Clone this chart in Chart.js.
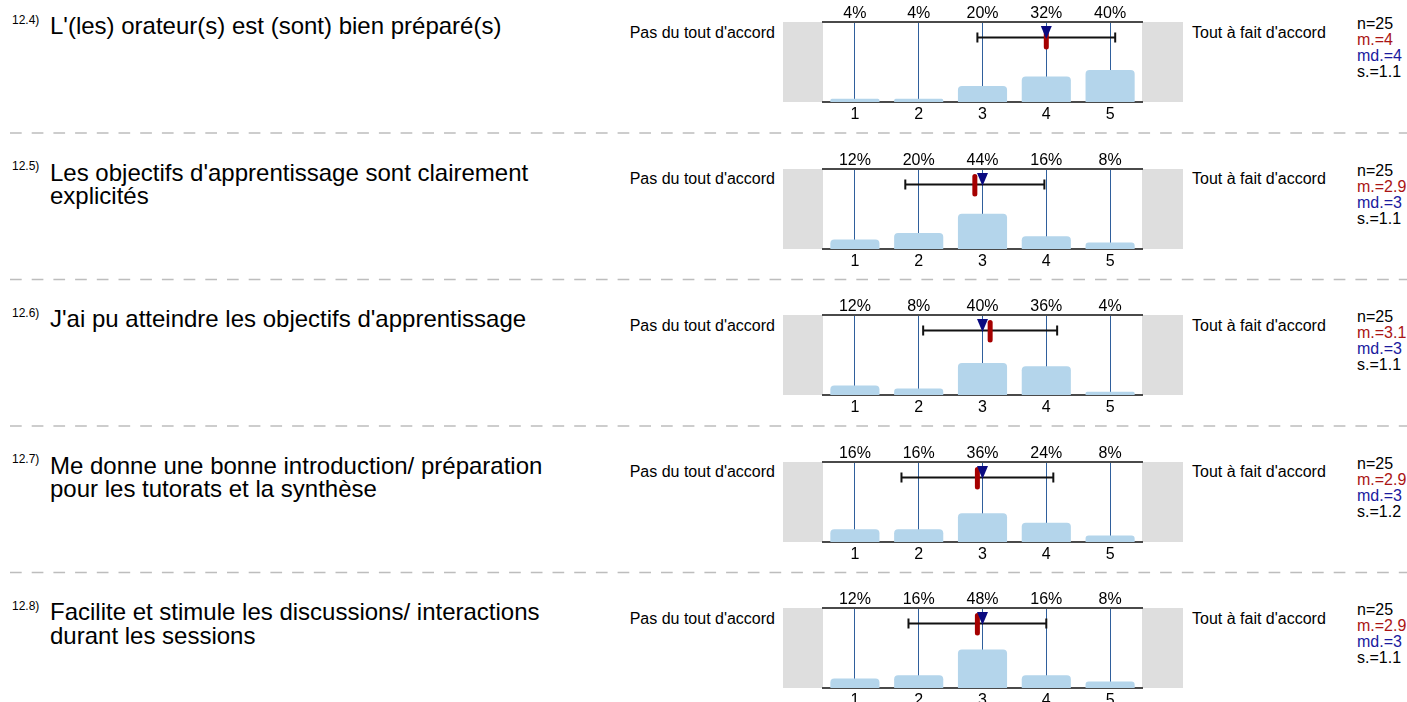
<!DOCTYPE html>
<html>
<head>
<meta charset="utf-8">
<script src="https://cdn.jsdelivr.net/npm/chart.js@4"></script>
<style>
  html, body { margin: 0; padding: 0; background: #fff; }
  body { width: 1407px; height: 702px; overflow: hidden; position: relative; font-family: "Liberation Sans", Arial, sans-serif; color: #000; }
  .abs { position: absolute; white-space: nowrap; }
  .qid { font-size: 12px; line-height: 12px; }
  .q { font-size: 24px; line-height: 23.5px; }
  .lbl { font-size: 16px; line-height: 16px; }
  .stats { font-size: 16px; line-height: 16px; }
  canvas { position: absolute; }
</style>
</head>
<body>
<svg id="sep" class="abs" style="left:0;top:0" width="1407" height="702"></svg>
<script>
// ––– Données –––
const questionIds = ["12.4)", "12.5)", "12.6)", "12.7)", "12.8)"];
const questions = [
  ["L'(les) orateur(s) est (sont) bien préparé(s)"],
  ["Les objectifs d'apprentissage sont clairement", "explicités"],
  ["J'ai pu atteindre les objectifs d'apprentissage"],
  ["Me donne une bonne introduction/ préparation", "pour les tutorats et la synthèse"],
  ["Facilite et stimule les discussions/ interactions", "durant les sessions"]
];
const scaleValues = ["1", "2", "3", "4", "5"];
const leftPole = "Pas du tout d'accord";
const rightPole = "Tout à fait d'accord";
const pct12_4 = [4, 4, 20, 32, 40];
const pct12_5 = [12, 20, 44, 16, 8];
const pct12_6 = [12, 8, 40, 36, 4];
const pct12_7 = [16, 16, 36, 24, 8];
const pct12_8 = [12, 16, 48, 16, 8];
const percents = [pct12_4, pct12_5, pct12_6, pct12_7, pct12_8];
const nValues = [25, 25, 25, 25, 25];
const means = [4.0, 2.88, 3.12, 2.92, 2.92];
const meanLabels = ["4", "2.9", "3.1", "2.9", "2.9"];
const medians = [4, 3, 3, 3, 3];
const sds = [1.08, 1.09, 1.05, 1.19, 1.08];
const sdLabels = ["1.1", "1.1", "1.1", "1.2", "1.1"];

// ––– Mise en page –––
const firstTop = 22;     // ligne supérieure du premier graphique
const panelStep = 146.5;
const barColor = "#b4d5eb";
const gridColor = "#2f5f9c";
const frameColor = "#4a4a4a";

Chart.defaults.font.family = "'Liberation Sans', Arial, sans-serif";
Chart.defaults.font.size = 16;
Chart.defaults.color = "#000";

// boîtes grises de chaque côté
const sideBoxes = {
  id: "sideBoxes",
  beforeDraw(chart) {
    const a = chart.chartArea;
    const ctx = chart.ctx;
    ctx.save();
    ctx.fillStyle = "#dedede";
    ctx.fillRect(a.left - 40, a.top, 40, a.bottom - a.top);
    ctx.fillRect(a.right, a.top, 41, a.bottom - a.top);
    ctx.restore();
  }
};

// moyenne, écart-type et médiane
const markers = {
  id: "markers",
  afterDraw(chart, args, opts) {
    const x = chart.scales.x;
    const top = chart.chartArea.top;
    const ctx = chart.ctx;
    const lo = x.getPixelForValue(opts.mean - opts.sd - 1);
    const hi = x.getPixelForValue(opts.mean + opts.sd - 1);
    const yb = top + 15.5;
    ctx.save();
    ctx.strokeStyle = "#111";
    ctx.lineWidth = 2;
    ctx.beginPath();
    ctx.moveTo(lo, yb); ctx.lineTo(hi, yb);
    ctx.moveTo(lo, yb - 5); ctx.lineTo(lo, yb + 5);
    ctx.moveTo(hi, yb - 5); ctx.lineTo(hi, yb + 5);
    ctx.stroke();

    const xm = x.getPixelForValue(opts.mean - 1);
    ctx.strokeStyle = "#a50000";
    ctx.lineWidth = 5;
    ctx.lineCap = "round";
    ctx.beginPath();
    ctx.moveTo(xm, top + 7.5); ctx.lineTo(xm, top + 25);
    ctx.stroke();

    const xd = x.getPixelForValue(opts.median - 1);
    ctx.fillStyle = "#0a0a80";
    ctx.beginPath();
    ctx.moveTo(xd - 5.5, top + 4);
    ctx.lineTo(xd + 5.5, top + 4);
    ctx.lineTo(xd, top + 17);
    ctx.closePath();
    ctx.fill();
    ctx.restore();
  }
};

function addText(cls, left, top, html, extra) {
  const d = document.createElement("div");
  d.className = "abs " + cls;
  d.style.left = left + "px";
  d.style.top = top + "px";
  d.innerHTML = html;
  if (extra) Object.assign(d.style, extra);
  document.body.appendChild(d);
  return d;
}

// lignes de séparation pointillées
const sep = document.getElementById("sep");
for (let i = 0; i < questions.length - 1; i++) {
  const y = firstTop + i * panelStep + 111;
  sep.innerHTML += `<line x1="10" y1="${y}" x2="1407" y2="${y}" stroke="#bdbdbd" stroke-width="1.6" stroke-dasharray="11.7 10"></line>`;
}

questions.forEach((lines, i) => {
  const top = firstTop + i * panelStep;

  addText("qid", 12, top - 8.5, questionIds[i]);
  addText("q", 50, top - 8, lines.join("<br>"));
  addText("lbl", 0, top + 2.5, leftPole, { left: "auto", right: (1407 - 775) + "px" });
  addText("lbl", 1192, top + 2.5, rightPole);
  addText("stats", 1357, top - 6,
    `n=${nValues[i]}<br><span style="color:#aa1414">m.=${meanLabels[i]}</span><br>` +
    `<span style="color:#1a1a9e">md.=${medians[i]}</span><br>s.=${sdLabels[i]}`);

  const canvas = document.createElement("canvas");
  canvas.width = 400;
  canvas.height = 124;
  canvas.style.left = "783px";
  canvas.style.top = (top - 22) + "px";
  canvas.style.width = "400px";
  canvas.style.height = "124px";
  document.body.appendChild(canvas);

  new Chart(canvas.getContext("2d"), {
    type: "bar",
    data: {
      labels: scaleValues,
      datasets: [{
        data: percents[i],
        backgroundColor: barColor,
        borderWidth: 0,
        borderRadius: { topLeft: 4, topRight: 4 },
        borderSkipped: "bottom",
        categoryPercentage: 1,
        barPercentage: 0.77
      }]
    },
    options: {
      responsive: false,
      animation: false,
      events: [],
      layout: { padding: { left: 40, right: 41, top: 0, bottom: 0 } },
      plugins: {
        legend: { display: false },
        tooltip: { enabled: false },
        markers: { mean: means[i], sd: sds[i], median: medians[i] }
      },
      scales: {
        x: {
          position: "bottom",
          offset: true,
          z: 1,
          grid: { display: true, offset: false, drawTicks: false, color: gridColor, lineWidth: 1 },
          border: { display: true, color: frameColor, width: 2 },
          ticks: { padding: 3, maxRotation: 0, autoSkip: false },
          afterFit(s) { s.height = 22; }
        },
        xTop: {
          axis: "x",
          type: "category",
          position: "top",
          labels: percents[i].map(v => v + "%"),
          offset: true,
          grid: { display: false, drawTicks: false },
          border: { display: true, color: frameColor, width: 2 },
          ticks: { padding: -1, maxRotation: 0, autoSkip: false },
          afterFit(s) { s.height = 22; }
        },
        y: { display: false, min: 0, max: 100 }
      }
    },
    plugins: [sideBoxes, markers]
  });
});
</script>
</body>
</html>
